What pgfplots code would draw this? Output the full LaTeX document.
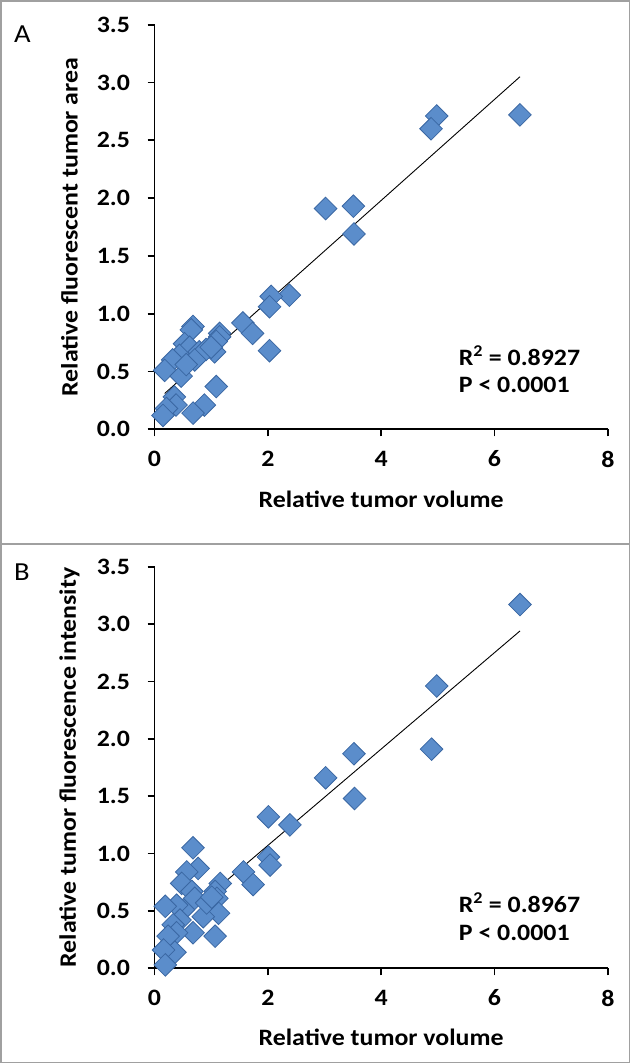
\documentclass[border=0pt]{standalone}
\usepackage{pgfplots}
\pgfplotsset{compat=1.18}
\usepackage{fontspec}
\setmainfont{Carlito}[FakeStretch=1.1]

\definecolor{mk}{HTML}{5B8DCB}
\definecolor{mkd}{HTML}{3A67A3}
\definecolor{framec}{HTML}{A0A0A0}

\newcommand\tickfont{\fontsize{23.5}{28}\selectfont\bfseries}
\newcommand\labfont{\fontsize{23.5}{28}\selectfont\bfseries}

\pgfplotsset{
  myax/.style={
    scale only axis, width=453.3pt,
    xmin=0, xmax=8, ymin=0, ymax=3.5,
    axis lines*=left, clip=false,
    axis line style={line width=1.8pt, black},
    xtick={0,2,4,6,8}, ytick={0,0.5,1,1.5,2,2.5,3,3.5},
    tick align=outside, major tick length=7pt,
    tick style={line width=1.8pt, black},
    /pgf/number format/assume math mode=true,
    yticklabel style={/pgf/number format/fixed, /pgf/number format/fixed zerofill, /pgf/number format/precision=1, font=\tickfont, xshift=-14pt},
    xticklabel style={font=\tickfont, yshift=-11pt},
    xlabel={Relative tumor volume},
    xlabel style={font=\labfont, at={(axis description cs:0.5,-0.173)}, anchor=center},
    ylabel style={font=\labfont, at={(axis description cs:-0.1875,0.5)}, anchor=center, rotate=0},
  },
  pts/.style={only marks, mark=square*, mark size=8pt,
    mark options={rotate=45, fill=mk, draw=mkd, line width=0.8pt}},
  fit/.style={no marks, black, line width=0.9pt},
}

\begin{document}
\begin{tikzpicture}
\useasboundingbox (0,0) rectangle (631pt,-1064pt);
\draw[framec, line width=1.2pt] (1pt,-1pt) rectangle (629.5pt,-1062.5pt);
\draw[framec, line width=1.2pt] (1pt,-544pt) -- (629.5pt,-544pt);
\node[font=\fontsize{26}{30}\selectfont] at (22.5pt,-34pt) {A};
\node[font=\fontsize{26}{30}\selectfont] at (22pt,-572pt) {B};

% Panel A
\begin{axis}[myax, height=404.6pt, at={(154.5pt,-429.3pt)}, anchor=south west,
  ylabel={Relative fluorescent tumor area}]
\addplot[pts] coordinates {
(6.45,2.72) (4.98,2.71) (4.88,2.60) (3.02,1.91) (3.51,1.93) (3.52,1.69)
(2.38,1.16) (2.06,1.15) (2.03,1.06) (2.03,0.68) (1.56,0.92) (1.73,0.83)
(1.15,0.83) (1.15,0.80) (1.09,0.76) (1.06,0.67) (1.09,0.37) (0.88,0.21) (0.68,0.14)
(0.68,0.89) (0.65,0.86) (0.53,0.74) (0.62,0.71) (0.44,0.64) (0.32,0.60)
(0.18,0.51) (0.47,0.46) (0.79,0.67) (0.91,0.69) (1.00,0.71) (0.71,0.60)
(0.56,0.56) (0.35,0.28) (0.38,0.21) (0.21,0.18) (0.15,0.12)
};
\addplot[fit] coordinates {(0.18,0.31) (6.45,3.05)};
\node[font=\labfont, anchor=west] at (axis cs:5.31,0.635) {R\textsuperscript{2} = 0.8927};
\node[font=\labfont, anchor=west] at (axis cs:5.31,0.38) {P < 0.0001};
\end{axis}

% Panel B
\begin{axis}[myax, height=401.6pt, at={(154.5pt,-968.3pt)}, anchor=south west,
  ylabel={Relative tumor fluorescence intensity}]
\addplot[pts] coordinates {
(6.45,3.17) (4.98,2.46) (4.89,1.91) (3.52,1.87) (3.53,1.48) (3.02,1.66)
(2.01,1.32) (2.39,1.25) (2.01,0.97) (2.04,0.90) (1.57,0.84) (1.74,0.73)
(1.16,0.74) (1.07,0.67) (1.10,0.61) (1.13,0.48) (1.07,0.28)
(0.68,1.05) (0.77,0.87) (0.57,0.84) (0.48,0.74) (0.66,0.67) (0.71,0.61)
(0.86,0.45) (0.68,0.31) (0.51,0.51) (0.39,0.55) (0.19,0.54) (0.45,0.42)
(0.33,0.38) (0.39,0.31) (0.24,0.28) (0.36,0.14) (0.16,0.16) (0.19,0.03)
(0.92,0.57) (1.01,0.62)
};
\addplot[fit] coordinates {(0.19,0.31) (6.45,2.94)};
\node[font=\labfont, anchor=west] at (axis cs:5.31,0.575) {R\textsuperscript{2} = 0.8967};
\node[font=\labfont, anchor=west] at (axis cs:5.31,0.31) {P < 0.0001};
\end{axis}
\end{tikzpicture}
\end{document}
